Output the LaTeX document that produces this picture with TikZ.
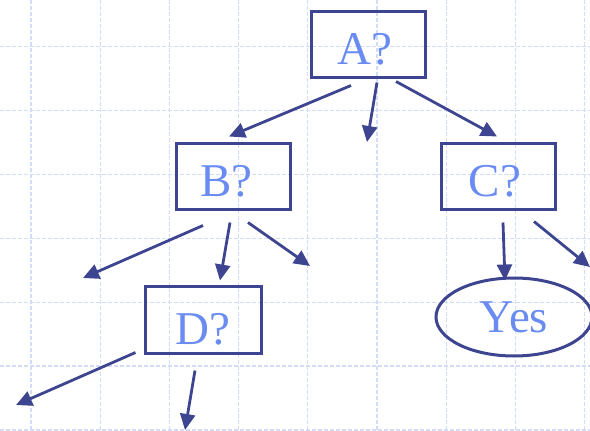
\documentclass[tikz,border=0pt]{standalone}
\usepackage{fontspec}
\setmainfont{Liberation Serif}
\usepackage{xcolor}
\definecolor{navy}{HTML}{3D4590}
\definecolor{lblue}{HTML}{6A8CF2}
\definecolor{gridc}{HTML}{D3DCF6}
\usetikzlibrary{arrows.meta,shapes.geometric}
\tikzset{
  >={Triangle[length=16pt,width=15pt]},
  qbox/.style={draw=navy,line width=3pt,minimum width=114pt,minimum height=66pt,inner sep=0pt,
    text height=40pt,text depth=0pt,font=\fontsize{47}{50}\selectfont,text=lblue},
  leaf/.style={draw=navy,line width=3pt,ellipse,minimum width=156pt,minimum height=78pt,inner sep=0pt,
    font=\fontsize{47}{50}\selectfont,text=lblue},
  arr/.style={->,draw=navy,line width=2.8pt},
  gline/.style={draw=gridc,line width=1.2pt,dash pattern=on 4pt off 2pt},
}

\begin{document}
\begin{tikzpicture}[x=1pt,y=-1pt]
\useasboundingbox (0,0) rectangle (590,431);
% grid
\foreach \gx in {31,100.2,169.4,238.6,307.8,377,446.2,515.4,584.6}
  \draw[gline] (\gx,0) -- (\gx,431);
\foreach \gy in {46.5,110.4,174.3,238.2,302.1,366,429.9}
  \draw[gline] (0,\gy) -- (590,\gy);
% nodes
\node[qbox] (A) at (368,44) {A?\kern6pt};
\node[qbox] (B) at (233.5,176) {B?\kern14pt};
\node[qbox] (C) at (498.5,176) {C?\kern7pt};
\node[qbox,minimum width=116pt,minimum height=67pt,text height=49pt] (D) at (203,319.5) {D?};
\node[leaf] (Y) at (514,317) {Yes};
% loose ends
\coordinate (aM) at (367,142);
\coordinate (bL) at (83,278);
\coordinate (bR) at (310,266);
\coordinate (cR) at (590,267);
\coordinate (dL) at (16,405);
\coordinate (dB) at (185,430);
% arrows
\draw[arr] ([shift={(-17,7)}]A.south) -- ([shift={(-4.5,-5)}]B.north);
\draw[arr] ([shift={(9,4)}]A.south) -- (aM);
\draw[arr] ([shift={(28,3)}]A.south) -- ([shift={(-1.5,-5)}]C.north);
\draw[arr] ([shift={(-30.5,15)}]B.south) -- (bL);
\draw[arr] ([shift={(-3.5,12)}]B.south) -- ([shift={(17,-4)}]D.north);
\draw[arr] ([shift={(14.5,12)}]B.south) -- (bR);
\draw[arr] ([shift={(4.5,12)}]C.south) -- ([shift={(-9,4)}]Y.north);
\draw[arr] ([shift={(35.5,11)}]C.south) -- (cR);
\draw[arr] ([shift={(-8,-2)}]D.south west) -- (dL);
\draw[arr] ([shift={(-8,16)}]D.south) -- (dB);
\end{tikzpicture}
\end{document}
